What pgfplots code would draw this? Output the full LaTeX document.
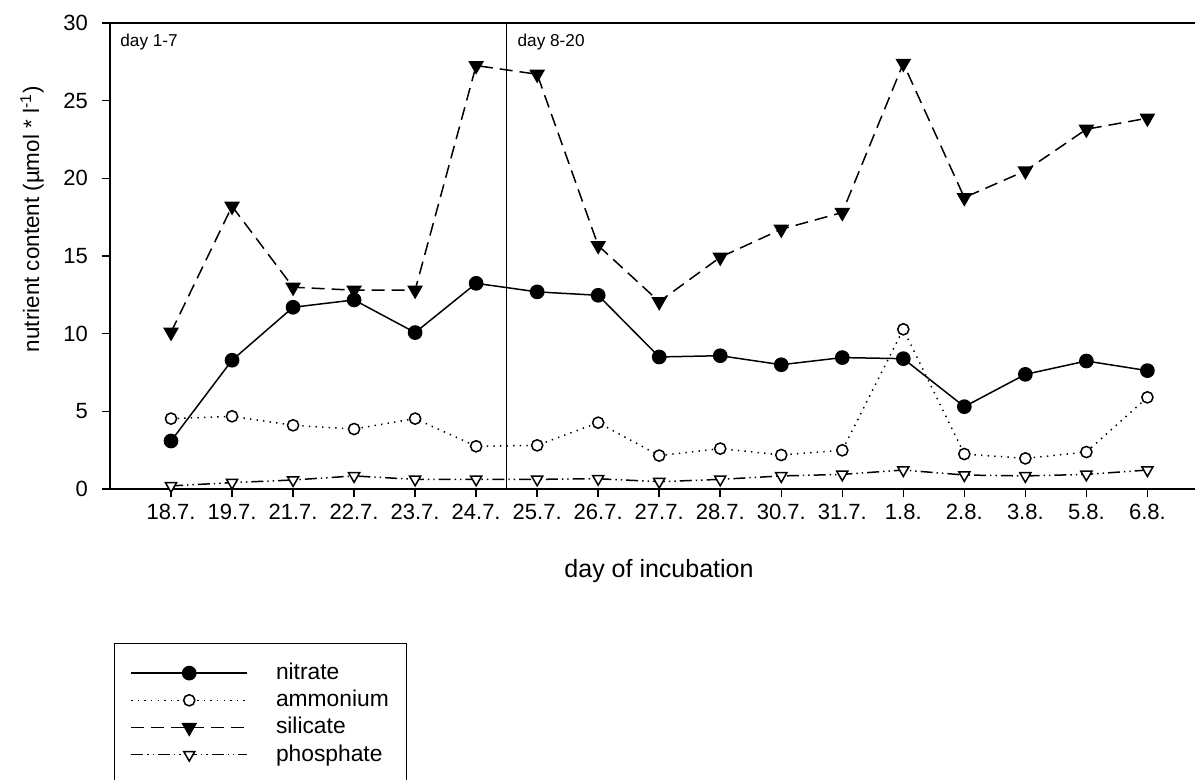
\documentclass[border=0pt]{standalone}
\usepackage{fontspec}
\setmainfont{Liberation Sans}
\usepackage{pgfplots}
\pgfplotsset{compat=1.18}
\begin{document}
\begin{tikzpicture}
\path[use as bounding box] (-55pt,-145.5pt) rectangle (542.5pt,244.5pt);
\begin{axis}[
  at={(0pt,0pt)}, anchor=south west,
  scale only axis, width=542.5pt, height=233pt,
  xmin=-1, xmax=16.78, ymin=0, ymax=30,
  clip=false,
  axis lines=left,
  axis line style={-, line width=0.75pt, black},
  tick align=outside,
  major tick length=4pt,
  tick style={line width=0.75pt, black},
  xtick={0,1,...,16},
  xticklabels={18.7.,19.7.,21.7.,22.7.,23.7.,24.7.,25.7.,26.7.,27.7.,28.7.,30.7.,31.7.,1.8.,2.8.,3.8.,5.8.,6.8.},
  ytick={0,5,...,30},
  /pgf/number format/assume math mode=true,
  ticklabel style={font=\fontsize{11}{13}\selectfont},
  yticklabel style={xshift=-3.5pt},
  xlabel={day of incubation},
  xlabel style={at={(axis description cs:0.506,-0.177)}, anchor=center, font=\fontsize{12.5}{15}\selectfont},
  ylabel={nutrient content (µmol * l\textsuperscript{-1})},
  ylabel style={at={(axis description cs:-0.0719,0.579)}, anchor=center, font=\fontsize{11.2}{13}\selectfont},
  legend image code/.code={\draw[mark repeat=2,mark phase=2,#1] plot coordinates {(0pt,0pt) (29pt,0pt) (58pt,0pt)};},
  legend cell align=left,
  legend style={at={(axis description cs:0.0037,-0.3305)}, anchor=north west,
    draw=black, line width=0.5pt, inner xsep=8pt, inner ysep=8pt,
    font=\fontsize{11.4}{13.6}\selectfont,
    nodes={inner sep=1pt, text height=9pt, text depth=2.6pt},
    /tikz/every odd column/.append style={column sep=13pt}},
]
\addplot[black, line width=0.5pt, forget plot] coordinates {(5.5,0) (5.5,30)};
\addplot[black, line width=0.75pt, mark=*, mark size=3.3pt, mark options={solid, fill=black}] coordinates {
(0,3.09) (1,8.29) (2,11.70) (3,12.17) (4,10.07) (5,13.24) (6,12.69) (7,12.47) (8,8.50) (9,8.58) (10,8.00) (11,8.46) (12,8.39) (13,5.30) (14,7.38) (15,8.24) (16,7.62)};
\addlegendentry{nitrate}
\addplot[black, line width=0.75pt, dash pattern=on 0.7pt off 2.6pt, mark=*, mark size=2.8pt, mark options={solid, fill=white}] coordinates {
(0,4.53) (1,4.68) (2,4.10) (3,3.86) (4,4.53) (5,2.75) (6,2.81) (7,4.27) (8,2.15) (9,2.60) (10,2.19) (11,2.49) (12,10.28) (13,2.25) (14,1.97) (15,2.38) (16,5.90)};
\addlegendentry{ammonium}
\addplot[black, line width=0.75pt, dash pattern=on 6.5pt off 3.5pt, mark=triangle*, mark size=3.8pt, mark options={solid, rotate=180, fill=black}] coordinates {
(0,10.09) (1,18.20) (2,12.99) (3,12.80) (4,12.80) (5,27.26) (6,26.70) (7,15.67) (8,12.06) (9,14.92) (10,16.72) (11,17.80) (12,27.40) (13,18.76) (14,20.48) (15,23.16) (16,23.87)};
\addlegendentry{silicate}
\addplot[black, line width=0.75pt, dash pattern=on 6pt off 2pt on 0.7pt off 2pt on 0.7pt off 2pt, mark=triangle*, mark size=3.2pt, mark options={solid, rotate=180, fill=white}] coordinates {
(0,0.20) (1,0.41) (2,0.58) (3,0.84) (4,0.62) (5,0.62) (6,0.62) (7,0.66) (8,0.47) (9,0.62) (10,0.84) (11,0.94) (12,1.22) (13,0.90) (14,0.84) (15,0.94) (16,1.22)};
\addlegendentry{phosphate}
\draw[line width=0.75pt] (rel axis cs:0,1) -- (rel axis cs:1,1);
\node[anchor=west, inner sep=0pt, font=\fontsize{8.6}{10}\selectfont] at (axis cs:-0.836,28.78) {day 1-7};
\node[anchor=west, inner sep=0pt, font=\fontsize{8.6}{10}\selectfont] at (axis cs:5.674,28.78) {day 8-20};
\end{axis}
\end{tikzpicture}
\end{document}
